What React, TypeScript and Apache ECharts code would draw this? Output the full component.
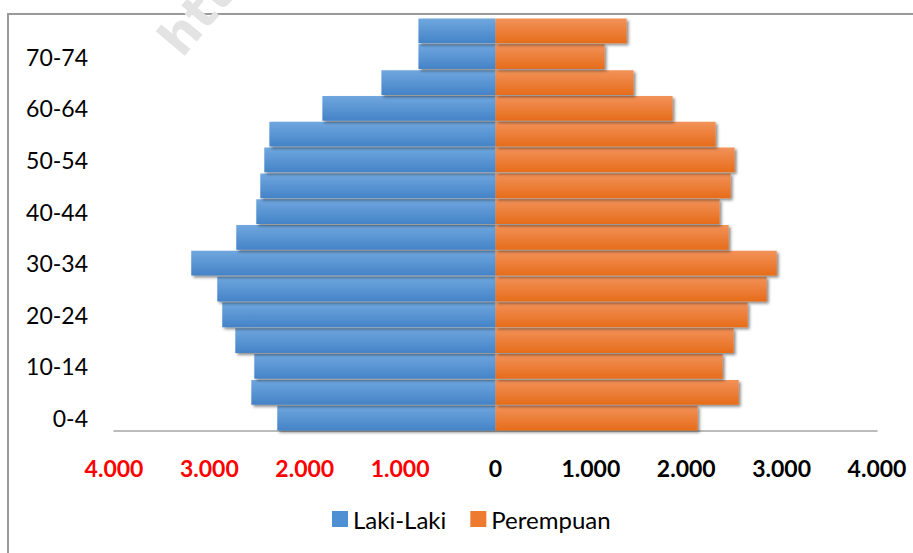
import React, { useEffect, useRef } from "react";
import * as echarts from "echarts";

const categories = [
  "0-4", "5-9", "10-14", "15-19", "20-24", "25-29", "30-34", "35-39",
  "40-44", "45-49", "50-54", "55-59", "60-64", "65-69", "70-74", "75+",
];
const lakiLaki = [
  2288, 2560, 2529, 2728, 2865, 2917, 3190, 2718,
  2508, 2466, 2424, 2371, 1815, 1196, 808, 808,
];
const perempuan = [
  2120, 2550, 2382, 2497, 2644, 2844, 2949, 2445,
  2350, 2466, 2508, 2308, 1857, 1448, 1144, 1375,
];
const seriesNames = ["Laki-Laki", "Perempuan"];
const xTicks = [-4000, -3000, -2000, -1000, 0, 1000, 2000, 3000, 4000];

const FONT = "Lato, 'Open Sans', sans-serif";

function fmt(v: number): string {
  const a = Math.abs(v);
  return a.toString().replace(/\B(?=(\d{3})+(?!\d))/g, ".");
}

export default function App() {
  const ref = useRef<HTMLDivElement>(null);
  useEffect(() => {
    document.body.style.margin = "0";
    if (!ref.current) return;
    const chart = echarts.init(ref.current, null, { renderer: "svg" });
    const blue = new echarts.graphic.LinearGradient(0, 0, 0, 1, [
      { offset: 0, color: "#70a7df" },
      { offset: 1, color: "#4483c7" },
    ]);
    const orange = new echarts.graphic.LinearGradient(0, 0, 0, 1, [
      { offset: 0, color: "#f2925a" },
      { offset: 1, color: "#e66c1a" },
    ]);
    const shadow = {
      shadowColor: "rgba(0,0,0,0.45)",
      shadowBlur: 3,
      shadowOffsetX: 2,
      shadowOffsetY: 2,
    };
    chart.setOption({
      animation: false,
      backgroundColor: "#ffffff",
      textStyle: { fontFamily: FONT },
      grid: { left: 114, right: 36, top: 18, bottom: 122, containLabel: false },
      legend: {
        bottom: 17,
        left: 327,
        icon: "rect",
        itemWidth: 16,
        itemHeight: 16,
        itemGap: 24,
        textStyle: { fontSize: 24, color: "#000", fontFamily: FONT },
        data: [
          { name: seriesNames[0], itemStyle: { color: "#4f8fd4" } },
          { name: seriesNames[1], itemStyle: { color: "#ee7a30" } },
        ],
      },
      xAxis: {
        type: "value",
        min: xTicks[0],
        max: xTicks[xTicks.length - 1],
        interval: 1000,
        axisLine: { show: true, lineStyle: { color: "#a6a6a6", width: 1.5 } },
        axisTick: { show: false },
        splitLine: { show: false },
        axisLabel: {
          margin: 25,
          fontSize: 23,
          fontWeight: "bold",
          fontFamily: FONT,
          formatter: (v: number) => fmt(v),
          color: (v: any) => (Number(v) < 0 ? "#ff0000" : "#000000"),
        },
      },
      yAxis: {
        type: "category",
        data: categories,
        axisLine: { show: false },
        axisTick: { show: false },
        axisLabel: {
          interval: 1,
          margin: 26,
          fontSize: 23,
          color: "#000",
          fontFamily: FONT,
        },
      },
      series: [
        {
          name: seriesNames[0],
          type: "bar",
          stack: "total",
          barCategoryGap: "4%",
          data: lakiLaki.map((v) => -v),
          itemStyle: { color: blue, ...shadow },
        },
        {
          name: seriesNames[1],
          type: "bar",
          stack: "total",
          barCategoryGap: "4%",
          data: perempuan,
          itemStyle: { color: orange, ...shadow },
        },
      ],
      graphic: [
        {
          type: "rect",
          shape: { x: 8, y: 14, width: 1200, height: 1200 },
          style: { fill: "none", stroke: "#9a9a9a", lineWidth: 2 },
          z: 0,
          silent: true,
        },
        {
          type: "text",
          x: 150,
          y: 32,
          rotation: 0.87,
          style: {
            text: "htt",
            fontSize: 50,
            fontWeight: "bold",
            fontFamily: "'DejaVu Sans', sans-serif",
            fill: "#e3e3e3",
          },
          z: 100,
          silent: true,
        },
      ],
    });
    return () => chart.dispose();
  }, []);
  return <div ref={ref} style={{ width: 913, height: 553 }} />;
}
